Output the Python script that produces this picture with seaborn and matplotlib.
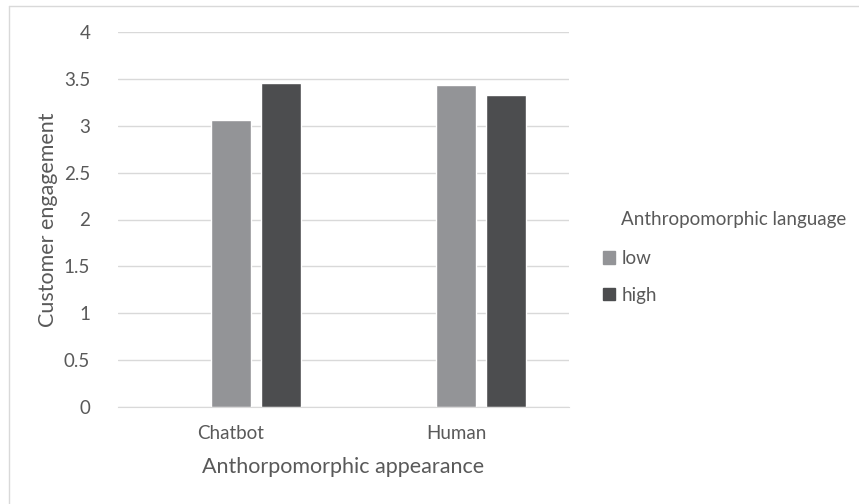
import matplotlib
matplotlib.use('Agg')
import matplotlib.pyplot as plt
import matplotlib.patches as mpatches
import numpy as np
import pandas as pd
import seaborn as sns

appearance = ['Chatbot', 'Human']
series = ['', 'low', 'high']   # first series is empty in the original chart
vals_blank = [np.nan, np.nan]
vals_low = [3.06, 3.43]
vals_high = [3.46, 3.33]
yticks = [0, 0.5, 1, 1.5, 2, 2.5, 3, 3.5, 4]

data = pd.DataFrame({
    'appearance': appearance * 3,
    'language': [s for s in series for _ in appearance],
    'engagement': vals_blank + vals_low + vals_high,
})

sns.set_style('white')
plt.rcParams['font.family'] = ['Lato', 'DejaVu Sans']
txt = '#595959'

fig = plt.figure(figsize=(8.59, 5.04), dpi=100)
ax = fig.add_axes([118 / 859, 1 - 407 / 504, 451 / 859, 375 / 504])

palette = {'': '#ffffff', 'low': '#939497', 'high': '#4c4d4f'}
sns.barplot(data=data, x='appearance', y='engagement', hue='language',
            order=appearance, hue_order=series, palette=palette,
            width=0.665, gap=0.2, errorbar=None, legend=False, ax=ax,
            saturation=1)

ax.set_ylim(0, 4)
ax.set_yticks(yticks)
ax.set_yticklabels([f'{t:g}' for t in yticks])
ax.yaxis.grid(True, color='#d9d9d9', linewidth=1)
ax.set_axisbelow(True)
for s in ['top', 'right', 'left']:
    ax.spines[s].set_visible(False)
ax.spines['bottom'].set_color('#d9d9d9')
ax.tick_params(axis='both', length=0, colors=txt, labelsize=13.5)
ax.tick_params(axis='y', pad=20)
ax.tick_params(axis='x', pad=13)
ax.set_xlabel('Anthorpomorphic appearance', color=txt, fontsize=15.5, labelpad=11)
ax.set_ylabel('Customer engagement', color=txt, fontsize=15.5, labelpad=4)

fig.text(621 / 859, 1 - 219 / 504, 'Anthropomorphic language', color=txt,
         fontsize=13.5, ha='left', va='center')
handles = [mpatches.Patch(color=palette['low'], label='low'),
           mpatches.Patch(color=palette['high'], label='high')]
leg = fig.legend(handles=handles, loc='upper left',
                 bbox_to_anchor=(603 / 859, 1 - 250 / 504),
                 frameon=False, fontsize=13.5, labelcolor=txt,
                 borderpad=0, borderaxespad=0,
                 handlelength=0.65, handleheight=0.65,
                 handletextpad=0.35, labelspacing=1.05)

# outer chart border
fig.add_artist(plt.Line2D([9 / 859, 9 / 859], [0, 1 - 6 / 504],
                          color='#d9d9d9', linewidth=1))
fig.add_artist(plt.Line2D([9 / 859, 1], [1 - 6 / 504, 1 - 6 / 504],
                          color='#d9d9d9', linewidth=1))

fig.savefig('out.png', dpi=100, facecolor='white')
